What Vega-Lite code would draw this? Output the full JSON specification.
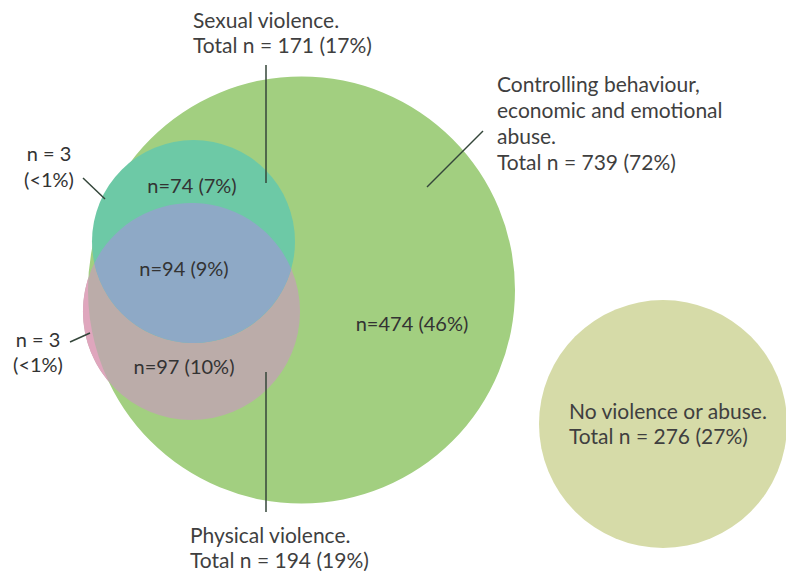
{
  "$schema": "https://vega.github.io/schema/vega-lite/v6.json",
  "width": 786,
  "height": 571,
  "autosize": {"type": "none"},
  "padding": 0,
  "background": "white",
  "config": {"view": {"stroke": null}, "text": {"font": "Lato"}},
  "datasets": {
    "circles": [
      {"set": "Controlling behaviour, economic and emotional abuse", "n": 739, "cx": 301.5, "cy": 290},
      {"set": "Physical violence", "n": 194, "cx": 191.5, "cy": 311.5},
      {"set": "No violence or abuse", "n": 276, "cx": 663, "cy": 424},
      {"set": "Sexual violence", "n": 171, "cx": 193.5, "cy": 241.5}
    ],
    "regions": [
      {"region": "Physical violence only (outside controlling)", "n": 3, "cx": 191.5, "cy": 311.5},
      {"region": "Sexual and physical violence", "n": 94, "cx": 191.5, "cy": 311.5}
    ],
    "labelsLeft": [
      {"label": "Sexual violence.", "lx": 193, "ly": 22},
      {"label": "Total n = 171 (17%)", "lx": 193, "ly": 47},
      {"label": "Controlling behaviour,", "lx": 497, "ly": 86},
      {"label": "economic and emotional", "lx": 497, "ly": 112},
      {"label": "abuse.", "lx": 497, "ly": 138},
      {"label": "Total n = 739 (72%)", "lx": 497, "ly": 164},
      {"label": "Physical violence.", "lx": 190, "ly": 537},
      {"label": "Total n = 194 (19%)", "lx": 190, "ly": 562},
      {"label": "No violence or abuse.", "lx": 569, "ly": 413},
      {"label": "Total n = 276 (27%)", "lx": 569, "ly": 438}
    ],
    "labelsCenter": [
      {"label": "n = 3", "lx": 49, "ly": 155},
      {"label": "(<1%)", "lx": 49, "ly": 181},
      {"label": "n = 3", "lx": 38, "ly": 341},
      {"label": "(<1%)", "lx": 38, "ly": 366},
      {"label": "n=74 (7%)", "lx": 192, "ly": 187},
      {"label": "n=94 (9%)", "lx": 184, "ly": 270},
      {"label": "n=97 (10%)", "lx": 184, "ly": 368},
      {"label": "n=474 (46%)", "lx": 412, "ly": 325}
    ],
    "leaders": [
      {"to": "Sexual violence", "x1": 266, "y1": 65, "x2": 266, "y2": 183},
      {"to": "Physical violence", "x1": 266, "y1": 372, "x2": 266, "y2": 512},
      {"to": "Controlling", "x1": 427, "y1": 187, "x2": 483, "y2": 131},
      {"to": "Sexual only outside", "x1": 83, "y1": 178, "x2": 105, "y2": 199},
      {"to": "Physical only outside", "x1": 70, "y1": 342, "x2": 90, "y2": 333}
    ]
  },
  "encoding": {
    "x": {"type": "quantitative", "scale": {"domain": [0, 786], "nice": false, "zero": false}, "axis": null},
    "y": {"type": "quantitative", "scale": {"domain": [0, 571], "nice": false, "zero": false, "reverse": true}, "axis": null}
  },
  "layer": [
    {
      "data": {"name": "circles"},
      "transform": [{"filter": "datum.set !== 'Sexual violence'"}],
      "mark": {"type": "point", "shape": "circle", "filled": true, "opacity": 1, "strokeWidth": 0},
      "encoding": {
        "x": {"field": "cx", "type": "quantitative"},
        "y": {"field": "cy", "type": "quantitative"},
        "size": {"field": "set", "type": "nominal", "legend": null,
          "scale": {"type": "ordinal", "domain": ["Controlling behaviour, economic and emotional abuse", "Physical violence", "No violence or abuse", "Sexual violence"], "range": [182329, 47089, 61504, 41209]}},
        "color": {"field": "set", "type": "nominal", "legend": null,
          "scale": {"domain": ["Controlling behaviour, economic and emotional abuse", "Physical violence", "No violence or abuse", "Sexual violence"], "range": ["#a2cf80", "#bbaca9", "#d6dba8", "#6dc9a6"]}}
      }
    },
    {
      "data": {"name": "regions"},
      "transform": [{"filter": "datum.n === 3"}],
      "mark": {"type": "point", "shape": "M-103.16,-33.63A108.5,108.5,0,0,0,-82.90,69.99A213.5,213.5,0,0,1,-103.16,-33.63Z", "size": 4, "filled": true, "opacity": 1, "strokeWidth": 0, "color": "#dfa6bd"},
      "encoding": {
        "x": {"field": "cx", "type": "quantitative"},
        "y": {"field": "cy", "type": "quantitative"}
      }
    },
    {
      "data": {"name": "circles"},
      "transform": [{"filter": "datum.set === 'Sexual violence'"}],
      "mark": {"type": "point", "shape": "circle", "filled": true, "opacity": 1, "strokeWidth": 0},
      "encoding": {
        "x": {"field": "cx", "type": "quantitative"},
        "y": {"field": "cy", "type": "quantitative"},
        "size": {"field": "set", "type": "nominal", "legend": null,
          "scale": {"type": "ordinal", "domain": ["Controlling behaviour, economic and emotional abuse", "Physical violence", "No violence or abuse", "Sexual violence"], "range": [182329, 47089, 61504, 41209]}},
        "color": {"field": "set", "type": "nominal", "legend": null,
          "scale": {"domain": ["Controlling behaviour, economic and emotional abuse", "Physical violence", "No violence or abuse", "Sexual violence"], "range": ["#a2cf80", "#bbaca9", "#d6dba8", "#6dc9a6"]}}
      }
    },
    {
      "data": {"name": "regions"},
      "transform": [{"filter": "datum.n === 94"}],
      "mark": {"type": "point", "shape": "M-97.15,-48.30A108.5,108.5,0,0,1,99.75,-42.68A101.5,101.5,0,0,1,-97.15,-48.30Z", "size": 4, "filled": true, "opacity": 1, "strokeWidth": 0, "color": "#8ea9c6"},
      "encoding": {
        "x": {"field": "cx", "type": "quantitative"},
        "y": {"field": "cy", "type": "quantitative"}
      }
    },
    {
      "data": {"name": "leaders"},
      "mark": {"type": "rule", "color": "#34463a", "strokeWidth": 1.5},
      "encoding": {
        "x": {"field": "x1", "type": "quantitative"},
        "y": {"field": "y1", "type": "quantitative"},
        "x2": {"field": "x2"},
        "y2": {"field": "y2"}
      }
    },
    {
      "data": {"name": "labelsLeft"},
      "mark": {"type": "text", "align": "left", "baseline": "middle", "fontSize": 21, "color": "#3f3f3f"},
      "encoding": {
        "x": {"field": "lx", "type": "quantitative"},
        "y": {"field": "ly", "type": "quantitative"},
        "text": {"field": "label"}
      }
    },
    {
      "data": {"name": "labelsCenter"},
      "mark": {"type": "text", "align": "center", "baseline": "middle", "fontSize": 20, "color": "#333333"},
      "encoding": {
        "x": {"field": "lx", "type": "quantitative"},
        "y": {"field": "ly", "type": "quantitative"},
        "text": {"field": "label"}
      }
    }
  ]
}
